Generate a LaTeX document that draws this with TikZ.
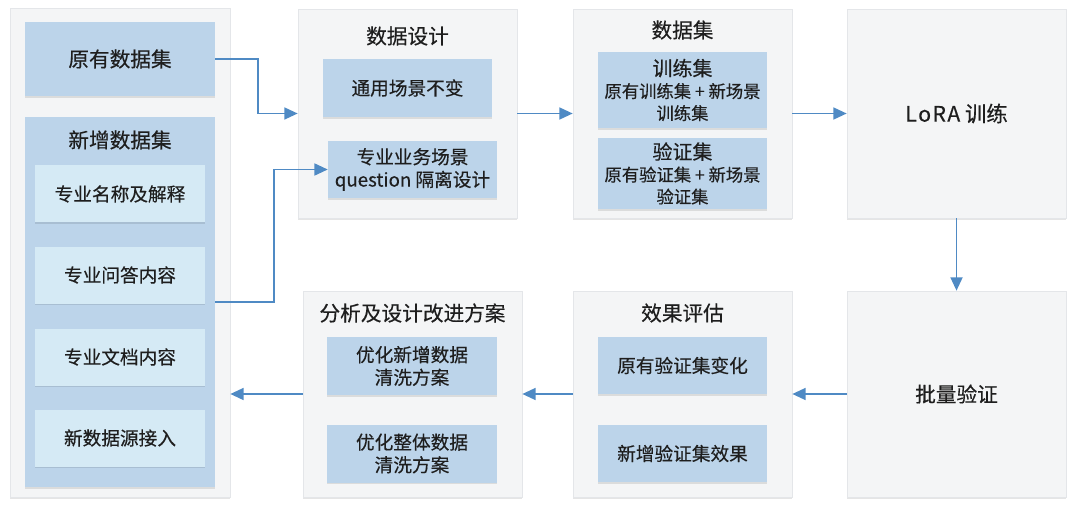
\documentclass[tikz,border=0pt]{standalone}
\usepackage{fontspec}
\setmainfont{Noto Sans CJK SC}[FakeBold=0.35]
\usetikzlibrary{arrows.meta,shadows}
\definecolor{panelfill}{HTML}{F4F5F6}
\definecolor{paneledge}{HTML}{E4E6E9}
\definecolor{bluebox}{HTML}{BCD4EA}
\definecolor{lightbox}{HTML}{D5EAF5}
\definecolor{arrowc}{HTML}{4F8AC4}
\definecolor{txt}{HTML}{1E1E1E}
\begin{document}
\begin{tikzpicture}[x=0.75pt,y=-0.75pt,
  panel/.style={draw=paneledge, line width=0.5pt, fill=panelfill, inner sep=0pt,
    drop shadow={shadow xshift=0pt, shadow yshift=-1.2pt, opacity=0.10, fill=black}},
  bbox/.style={fill=bluebox, inner sep=0pt, align=center, text=txt, font=\fontsize{14}{17}\selectfont,
    drop shadow={shadow xshift=0pt, shadow yshift=-1.2pt, opacity=0.10, fill=black}},
  lbox/.style={fill=lightbox, inner sep=0pt, align=center, text=txt, font=\fontsize{14}{17}\selectfont,
    drop shadow={shadow xshift=0pt, shadow yshift=-1.2pt, opacity=0.10, fill=black}},
  ttl/.style={text=txt, font=\fontsize{15.5}{18}\selectfont, inner sep=0pt},
  arr/.style={draw=arrowc, line width=1.3pt, -{Triangle[length=10pt,width=9pt]}}
]
\useasboundingbox (0,0) rectangle (1080,513);

% left panel
\node[panel, minimum width={220*0.75pt}, minimum height={489*0.75pt}] (L) at (120,252.5) {};
\node[bbox, minimum width={190*0.75pt}, minimum height={74*0.75pt}, font=\fontsize{15.5}{18}\selectfont] (orig) at (120,59) {原有数据集};
\node[bbox, minimum width={190*0.75pt}, minimum height={370*0.75pt}] (newset) at (120,302) {};
\node[ttl] (newttl) at (120,140) {新增数据集};
\node[lbox, minimum width={170*0.75pt}, minimum height={57*0.75pt}] (i1) at (120,194) {专业名称及解释};
\node[lbox, minimum width={170*0.75pt}, minimum height={57*0.75pt}] (i2) at (120,275) {专业问答内容};
\node[lbox, minimum width={170*0.75pt}, minimum height={57*0.75pt}] (i3) at (120,357) {专业文档内容};
\node[lbox, minimum width={170*0.75pt}, minimum height={57*0.75pt}] (i4) at (120,438) {新数据源接入};

% design panel
\node[panel, minimum width={219*0.75pt}, minimum height={209*0.75pt}] (D) at (407.5,113.5) {};
\node[ttl] (Dttl) at (407.5,36) {数据设计};
\node[bbox, minimum width={169*0.75pt}, minimum height={58*0.75pt}] (d1) at (407.5,88) {通用场景不变};
\node[bbox, minimum width={169*0.75pt}, minimum height={57*0.75pt}] (d2) at (412.5,169.5) {专业业务场景\\question 隔离设计};

% dataset panel
\node[panel, minimum width={219*0.75pt}, minimum height={209*0.75pt}] (S) at (682.5,113.5) {};
\node[ttl] (Sttl) at (682.5,30) {数据集};
\node[bbox, minimum width={169*0.75pt}, minimum height={76*0.75pt}, font=\fontsize{13}{16.5}\selectfont] (s1) at (682.5,90)
  {{\fontsize{15}{17}\selectfont 训练集}\\原有训练集 + 新场景\\训练集};
\node[bbox, minimum width={169*0.75pt}, minimum height={71*0.75pt}, font=\fontsize{13}{16.5}\selectfont] (s2) at (682.5,173.5)
  {{\fontsize{15}{17}\selectfont 验证集}\\原有验证集 + 新场景\\验证集};

% LoRA panel
\node[panel, minimum width={219*0.75pt}, minimum height={209*0.75pt}, text=txt, font=\fontsize{16}{19}\selectfont] (R) at (956.5,113.5) {L\kern1pt o\kern1pt R\kern1pt A\ 训练};

% batch panel
\node[panel, minimum width={219*0.75pt}, minimum height={206*0.75pt}, text=txt, font=\fontsize{15.5}{18}\selectfont] (B) at (956.5,394) {批量验证};

% eval panel
\node[panel, minimum width={219*0.75pt}, minimum height={206*0.75pt}] (E) at (682.5,394) {};
\node[ttl] (Ettl) at (682.5,313) {效果评估};
\node[bbox, minimum width={169*0.75pt}, minimum height={57*0.75pt}] (e1) at (682.5,365.5) {原有验证集变化};
\node[bbox, minimum width={169*0.75pt}, minimum height={57*0.75pt}] (e2) at (682.5,453.5) {新增验证集效果};

% analysis panel
\node[panel, minimum width={219*0.75pt}, minimum height={206*0.75pt}] (A) at (412.5,394) {};
\node[ttl] (Attl) at (412.5,313) {分析及设计改进方案};
\node[bbox, minimum width={170*0.75pt}, minimum height={58*0.75pt}] (a1) at (412,366) {优化新增数据\\清洗方案};
\node[bbox, minimum width={170*0.75pt}, minimum height={58*0.75pt}] (a2) at (412,453.5) {优化整体数据\\清洗方案};

% connectors
\draw[arr] (orig.east) -- ++(43,0) |- (D.west);
\draw[arr] (newset.east) -- ++(59,0) |- (d2.west);
\draw[arr] (D.east) -- (S.west);
\draw[arr] (S.east) -- (R.west);
\draw[arr] (R.south) -- (B.north);
\draw[arr] (B.west) -- (E.east);
\draw[arr] (E.west) -- (A.east);
\draw[arr] (A.west) -- (A.west -| L.east);
\end{tikzpicture}
\end{document}
